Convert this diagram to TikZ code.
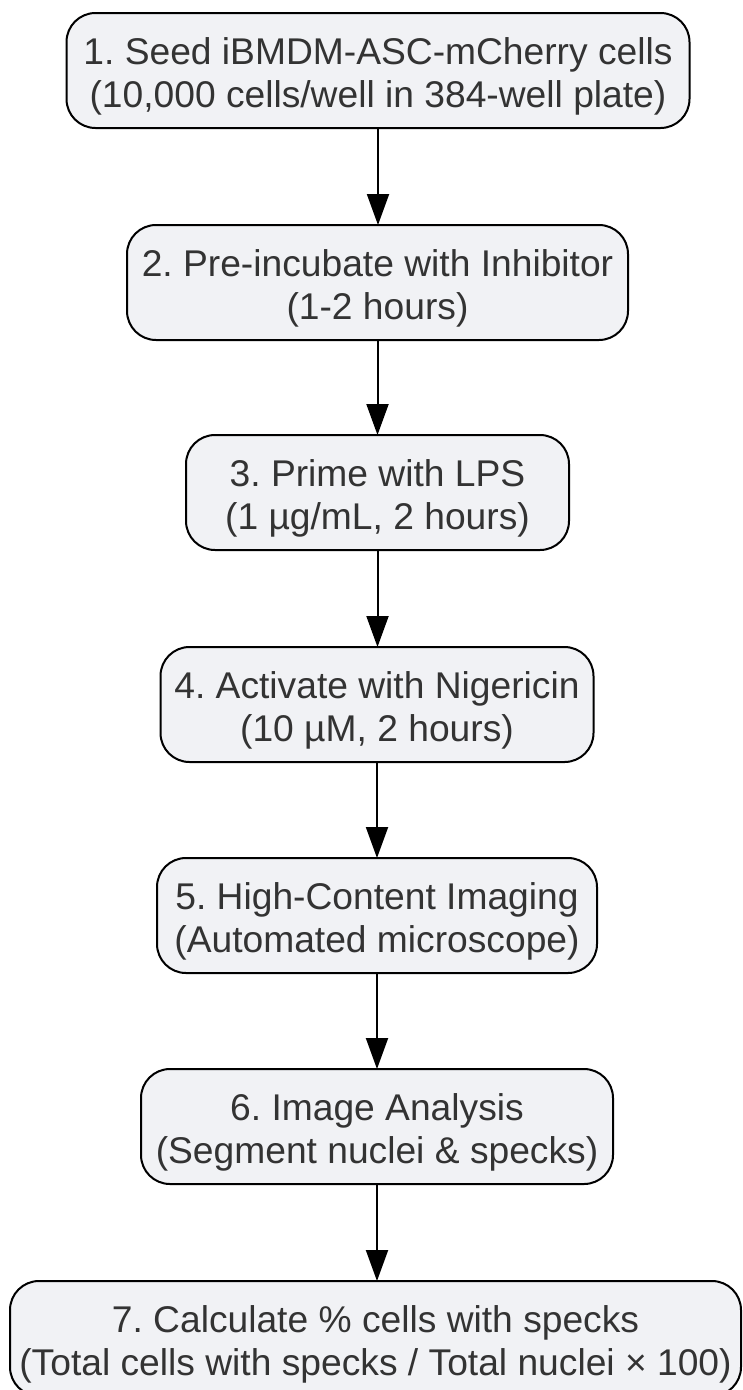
\documentclass[tikz,border=0pt]{standalone}
\usepackage{fontspec}
\setmainfont{Liberation Sans}
\usetikzlibrary{arrows.meta}
\frenchspacing
\definecolor{boxfill}{HTML}{F1F2F5}
\definecolor{txt}{HTML}{333333}
\tikzset{
  stepbox/.style={draw=black, line width=2pt, fill=boxfill, rounded corners=29pt,
    inner sep=0pt, outer sep=0pt, anchor=north, align=center, text=txt,
    font=\fontsize{37.2}{43}\selectfont, text height=94pt, text depth=21pt,
    minimum height=115pt},
  flow/.style={draw=black, line width=2pt, -{Triangle[length=31pt,width=22pt]}}
}
\begin{document}
\begin{tikzpicture}[x=1pt,y=-1pt]
\useasboundingbox (0,0) rectangle (742,1390);
\node[stepbox, minimum width=623pt] (n1) at (378,13) {1. Seed iBMDM-ASC-mCherry cells\\(10,000 cells/well in 384-well plate)};
\node[stepbox, minimum width=501pt] (n2) at (377.5,225) {2. Pre-incubate with Inhibitor\\(1-2 hours)};
\node[stepbox, minimum width=383pt] (n3) at (377.5,435) {3. Prime with LPS\\(1 µg/mL, 2 hours)};
\node[stepbox, minimum width=433pt] (n4) at (377,647) {4. Activate with Nigericin\\(10 µM, 2 hours)};
\node[stepbox, minimum width=440pt] (n5) at (377,858) {5. High-Content Imaging\\(Automated microscope)};
\node[stepbox, minimum width=472pt] (n6) at (377,1069) {6. Image Analysis\\(Segment nuclei \& specks)};
\node[stepbox, minimum width=731pt] (n7) at (375.5,1281) {7. Calculate \% cells with specks\\(Total cells with specks / Total nuclei × 100)};
\draw[flow] (n1.south) -- (n1.south |- n2.north);
\draw[flow] (n2.south) -- (n2.south |- n3.north);
\draw[flow] (n3.south) -- (n3.south |- n4.north);
\draw[flow] (n4.south) -- (n4.south |- n5.north);
\draw[flow] (n5.south) -- (n5.south |- n6.north);
\draw[flow] (n6.south) -- (n6.south |- n7.north);
\end{tikzpicture}
\end{document}
